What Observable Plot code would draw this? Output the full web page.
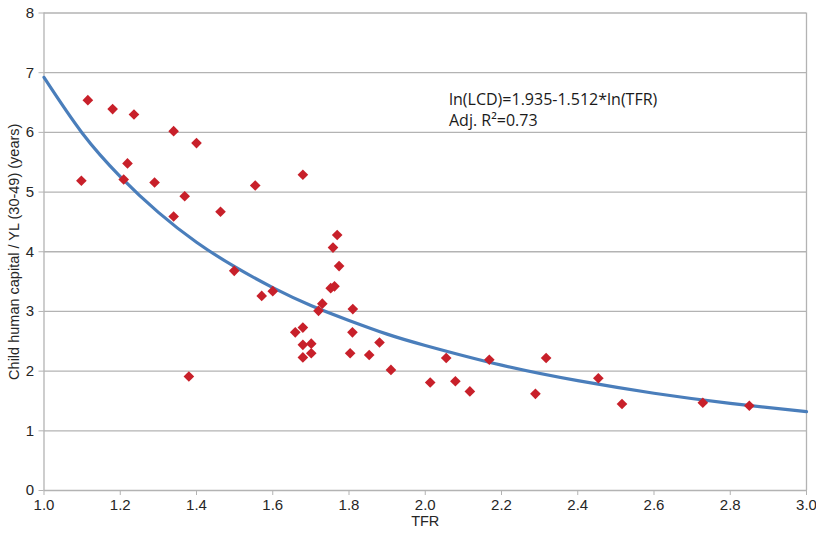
<!DOCTYPE html>
<html>
<head>
<meta charset="utf-8">
<script src="https://cdn.jsdelivr.net/npm/d3@7"></script>
<script src="https://cdn.jsdelivr.net/npm/@observablehq/plot@0.6"></script>
<style>
  html, body { margin: 0; padding: 0; background: #fff; }
  #chart svg { display: block; }
</style>
</head>
<body>
<div id="chart"></div>
<script>
// Observed points (TFR, child human capital / YL)
const tfr = [1.098, 1.115, 1.180, 1.236, 1.340, 1.400, 1.219, 1.209, 1.290, 1.369, 1.340, 1.463, 1.554,
  1.499, 1.571, 1.600, 1.380, 1.679, 1.769, 1.758, 1.774, 1.752, 1.762, 1.730, 1.720, 1.810,
  1.659, 1.679, 1.679, 1.701, 1.679, 1.701, 1.809, 1.803, 1.853, 1.880, 1.910, 2.013, 2.055,
  2.079, 2.117, 2.168, 2.289, 2.317, 2.454, 2.516, 2.728, 2.850];
const lcd = [5.19, 6.54, 6.39, 6.30, 6.02, 5.82, 5.48, 5.21, 5.16, 4.93, 4.59, 4.67, 5.11,
  3.68, 3.26, 3.34, 1.91, 5.29, 4.28, 4.07, 3.76, 3.39, 3.42, 3.13, 3.01, 3.04,
  2.65, 2.73, 2.44, 2.46, 2.23, 2.30, 2.65, 2.30, 2.27, 2.48, 2.02, 1.81, 2.22,
  1.83, 1.66, 2.19, 1.62, 2.22, 1.88, 1.45, 1.47, 1.42];

// Fitted curve
const curveX = [1.0, 1.1, 1.2, 1.3, 1.4, 1.5, 1.6, 1.7, 1.8, 1.9, 2.0, 2.2, 2.4, 2.6, 2.8, 3.0];
const curveY = [6.92, 5.99, 5.26, 4.66, 4.16, 3.75, 3.40, 3.10, 2.85, 2.62, 2.43, 2.10, 1.84, 1.63, 1.46, 1.32];

const xTicks = [1.0, 1.2, 1.4, 1.6, 1.8, 2.0, 2.2, 2.4, 2.6, 2.8, 3.0];
const yTicks = [0, 1, 2, 3, 4, 5, 6, 7, 8];
const xLabel = "TFR";
const yLabel = "Child human capital / YL (30-49) (years)";
const noteLines = ["ln(LCD)=1.935-1.512*ln(TFR)", "Adj. R\u00B2=0.73"];

const points = tfr.map((x, i) => ({x, y: lcd[i]}));
const curve = curveX.map((x, i) => ({x, y: curveY[i]}));

const gridColor = "#b3b3b3";
const textColor = "#262626";
const sans = "'Liberation Sans', Arial, sans-serif";

const chart = Plot.plot({
  width: 816,
  height: 533,
  marginLeft: 43.5,
  marginRight: 10,
  marginTop: 12.5,
  marginBottom: 43,
  style: {fontFamily: sans, color: textColor, background: "#fff"},
  x: {domain: [1, 3]},
  y: {domain: [0, 8]},
  marks: [
    Plot.ruleY(yTicks, {stroke: gridColor, strokeWidth: 1.3}),
    Plot.ruleX([1, 3], {stroke: gridColor, strokeWidth: 1.3}),
    Plot.axisY({ticks: yTicks, tickSize: 5, tickPadding: 5, stroke: gridColor, label: null, fontSize: 15, fill: textColor, tickFormat: d3.format("d")}),
    Plot.axisX({ticks: xTicks, tickSize: 5, tickPadding: 4, stroke: gridColor, label: null, fontSize: 15, fill: textColor, tickFormat: d3.format(".1f")}),
    Plot.line(curve, {x: "x", y: "y", stroke: "#4a7ebb", strokeWidth: 3.2, curve: "natural"}),
    Plot.dot(points, {x: "x", y: "y", symbol: "diamond2", r: 4.8, fill: "#c8202a", stroke: "none"}),
    Plot.text([xLabel], {frameAnchor: "bottom", dy: 35, text: d => d, fontSize: 14.5, fill: textColor}),
    Plot.text([yLabel], {frameAnchor: "left", textAnchor: "middle", dx: -30, rotate: -90, text: d => d, fontSize: 14.5, fill: textColor}),
    Plot.text([noteLines.join("\n")], {x: 1.0, y: 8, dx: 405, dy: 77, text: d => d, textAnchor: "start", lineAnchor: "top", lineHeight: 1.3,
      fontSize: 16, fontFamily: "'Open Sans', Lato, sans-serif", fill: "#1a1a1a"})
  ]
});
document.getElementById("chart").appendChild(chart);
</script>
</body>
</html>
